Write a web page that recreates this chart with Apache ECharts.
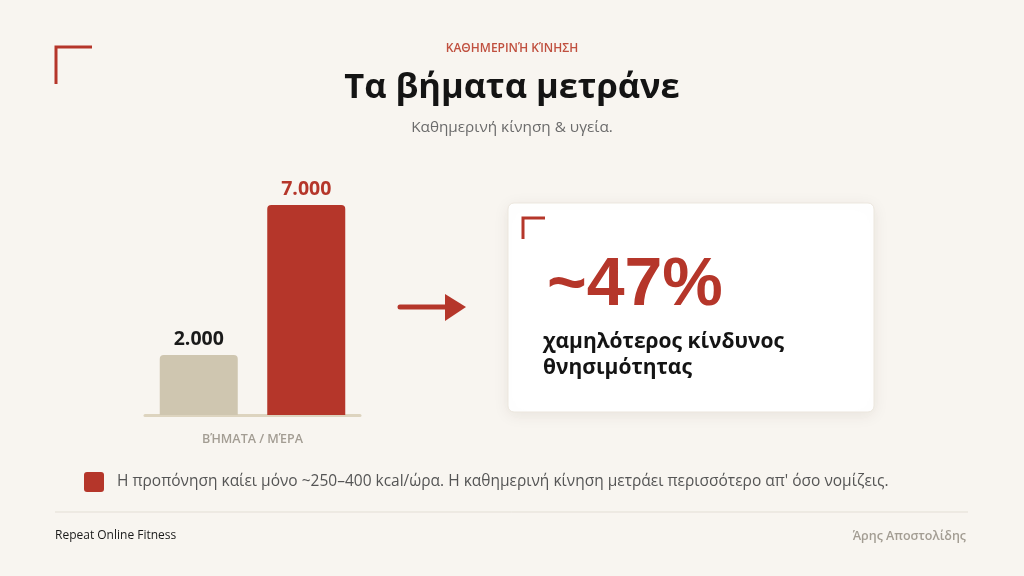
<!DOCTYPE html>
<html><head><meta charset="utf-8">
<script src="https://cdn.jsdelivr.net/npm/echarts@6/dist/echarts.min.js"></script>
<style>html,body{margin:0;padding:0;background:#f8f5f0;}#c{width:1024px;height:576px;}</style>
</head><body><div id="c"></div>
<script>
const categories = ['Λίγη κίνηση', 'Καθημερινή κίνηση'];
const stepsPerDay = [2000, 7000];
const axisName = 'ΒΉΜΑΤΑ / ΜΈΡΑ';
const kicker = 'ΚΑΘΗΜΕΡΙΝΉ ΚΊΝΗΣΗ';
const titleText = 'Τα βήματα μετράνε';
const subtitleText = 'Καθημερινή κίνηση & υγεία.';
const statValue = '~47%';
const statLines = ['χαμηλότερος κίνδυνος', 'θνησιμότητας'];
const noteText = "Η προπόνηση καίει μόνο ~250–400 kcal/ώρα. Η καθημερινή κίνηση μετράει περισσότερο απ' όσο νομίζεις.";
const footerLeft = 'Repeat Online Fitness';
const footerRight = 'Άρης Αποστολίδης';

const RED = '#b5362a', BEIGE = '#cfc6b0';
const barColors = [BEIGE, RED];
const labelColors = ['#1a1a1a', RED];
const fmt = v => String(v).replace(/\B(?=(\d{3})+(?!\d))/g, '.');
const FONT = "'Open Sans', 'Noto Sans', sans-serif";

const chart = echarts.init(document.getElementById('c'), null, {renderer: 'canvas'});
chart.setOption({
  backgroundColor: '#f8f5f0',
  animation: false,
  grid: {left: 145, width: 215, top: 205, height: 210},
  xAxis: {
    type: 'category', data: categories,
    axisLine: {lineStyle: {color: '#ddd4bf', width: 3}},
    axisTick: {show: false}, axisLabel: {show: false},
    name: axisName, nameLocation: 'middle', nameGap: 18,
    nameTextStyle: {color: '#a39d93', fontSize: 12.5, fontFamily: FONT, fontWeight: 600}
  },
  yAxis: {type: 'value', min: 0, max: 7000, show: false, splitLine: {show: false}},
  series: [{
    type: 'bar', barWidth: 78,
    data: stepsPerDay.map((v, i) => ({
      value: v,
      itemStyle: {color: barColors[i], borderRadius: [4, 4, 0, 0]},
      label: {color: labelColors[i]}
    })),
    label: {show: true, position: 'top', distance: 6, formatter: p => fmt(p.value),
      fontSize: 19.5, fontWeight: 'bold', fontFamily: FONT}
  }],
  graphic: [
    {type: 'polyline', shape: {points: [[56, 84], [56, 47], [92, 47]]}, style: {stroke: RED, lineWidth: 3, fill: null}},
    {type: 'text', x: 512, y: 49, style: {text: kicker, fill: '#c0503f', font: `600 12px ${FONT}`, textAlign: 'center', textVerticalAlign: 'middle'}},
    {type: 'text', x: 512, y: 88, style: {text: titleText, fill: '#141414', font: `bold 34.5px ${FONT}`, textAlign: 'center', textVerticalAlign: 'middle'}},
    {type: 'text', x: 512, y: 128, style: {text: subtitleText, fill: '#6b6b6b', font: `15.3px ${FONT}`, textAlign: 'center', textVerticalAlign: 'middle'}},
    // arrow
    {type: 'line', shape: {x1: 400, y1: 307, x2: 448, y2: 307}, style: {stroke: RED, lineWidth: 5, lineCap: 'round'}},
    {type: 'polygon', shape: {points: [[445, 294], [466, 307], [445, 321]]}, style: {fill: RED}},
    // card
    {type: 'rect', shape: {x: 508, y: 203, width: 366, height: 209, r: 6},
      style: {fill: '#ffffff', stroke: '#ece7de', lineWidth: 1, shadowBlur: 16, shadowColor: 'rgba(60,40,20,0.08)', shadowOffsetY: 3}},
    {type: 'polyline', shape: {points: [[523, 239], [523, 218], [545, 218]]}, style: {stroke: RED, lineWidth: 3, fill: null}},
    {type: 'text', x: 547, y: 286, style: {text: statValue, fill: RED, font: `bold 68px 'Liberation Sans', Arial, sans-serif`, textAlign: 'left', textVerticalAlign: 'middle'}},
    {type: 'text', x: 543, y: 342, style: {text: statLines[0], fill: '#141414', font: `bold 21px ${FONT}`, textAlign: 'left', textVerticalAlign: 'middle'}},
    {type: 'text', x: 543, y: 368, style: {text: statLines[1], fill: '#141414', font: `bold 21px ${FONT}`, textAlign: 'left', textVerticalAlign: 'middle'}},
    // note
    {type: 'rect', shape: {x: 84, y: 472, width: 20, height: 20, r: 3}, style: {fill: RED}},
    {type: 'text', x: 117, y: 482, style: {text: noteText, fill: '#555555', font: `15.5px ${FONT}`, textAlign: 'left', textVerticalAlign: 'middle'}},
    // footer
    {type: 'line', shape: {x1: 55, y1: 512, x2: 968, y2: 512}, style: {stroke: '#e3ded5', lineWidth: 1}},
    {type: 'text', x: 55, y: 536, style: {text: footerLeft, fill: '#1a1a1a', font: `500 12px ${FONT}`, textAlign: 'left', textVerticalAlign: 'middle'}},
    {type: 'text', x: 966, y: 536, style: {text: footerRight, fill: '#a39d93', font: `600 12.5px ${FONT}`, textAlign: 'right', textVerticalAlign: 'middle'}}
  ]
});
</script></body></html>
